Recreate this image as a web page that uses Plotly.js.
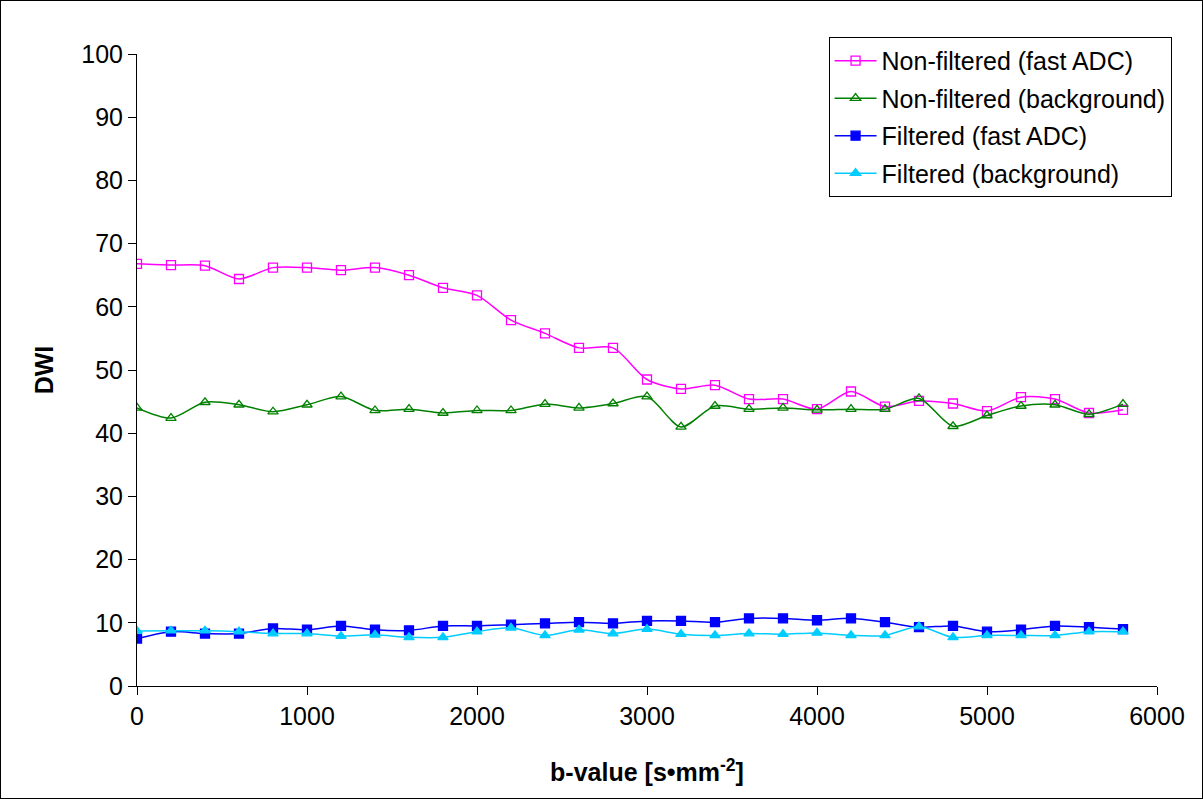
<!DOCTYPE html>
<html>
<head>
<meta charset="utf-8">
<script src="https://cdn.plot.ly/plotly-3.0.1.min.js"></script>
<style>
html,body{margin:0;padding:0;background:#fff;}
#chart{width:1203px;height:799px;box-sizing:border-box;border:1px solid #000;}
</style>
</head>
<body>
<div id="chart"></div>
<script>
const bValues = [0,200,400,600,800,1000,1200,1400,1600,1800,2000,2200,2400,2600,2800,3000,3200,3400,3600,3800,4000,4200,4400,4600,4800,5000,5200,5400,5600,5800];
const nonFilteredFastADC = [66.8,66.6,66.5,64.4,66.2,66.2,65.8,66.2,65.0,63.0,61.8,57.9,55.8,53.5,53.5,48.5,47.0,47.6,45.4,45.4,43.8,46.6,44.2,45.1,44.7,43.5,45.7,45.4,43.2,43.7];
const nonFilteredBackground = [44.0,42.4,44.9,44.5,43.4,44.5,45.8,43.6,43.8,43.2,43.6,43.6,44.6,44.0,44.7,45.8,41.0,44.3,43.8,44.0,43.7,43.8,43.8,45.5,41.1,42.8,44.3,44.5,43.0,44.6];
const filteredFastADC = [7.5,8.6,8.3,8.3,9.1,8.9,9.5,8.9,8.8,9.5,9.5,9.7,9.9,10.1,9.9,10.3,10.3,10.1,10.7,10.7,10.4,10.7,10.1,9.3,9.5,8.6,8.9,9.5,9.3,9.0];
const filteredBackground = [8.7,8.75,8.75,8.6,8.3,8.3,7.9,8.1,7.7,7.7,8.6,9.2,8.0,8.9,8.3,9.0,8.2,8.0,8.3,8.2,8.4,8.0,8.0,9.4,7.7,8.0,8.0,8.0,8.6,8.6];
const seriesNames = ["Non-filtered (fast ADC)","Non-filtered (background)","Filtered (fast ADC)","Filtered (background)"];
const xTicks = [0,1000,2000,3000,4000,5000,6000];
const yTicks = [0,10,20,30,40,50,60,70,80,90,100];

function tr(y, name, color, symbol, grp){
  return {x:bValues, y:y, name:name, legendgroup:grp, type:'scatter', mode:'lines+markers',
    line:{color:color, width:1.5, shape:'spline', smoothing:0.8},
    marker:{symbol:symbol, size:9, color:color, line:{color:color, width:1.3}}};
}
const data = [
  tr(nonFilteredFastADC, seriesNames[0], '#FF00FF', 'square-open', 'g1'),
  tr(nonFilteredBackground, seriesNames[1], '#008000', 'triangle-up-open', 'g2'),
  tr(filteredFastADC, seriesNames[2], '#0000FF', 'square', 'g3'),
  tr(filteredBackground, seriesNames[3], '#00CCFF', 'triangle-up', 'g4')
];
const font = {family:'"Liberation Sans", Arial, sans-serif', size:25, color:'#000'};
const layout = {
  width:1201, height:797,
  margin:{l:136, r:45, t:53, b:112},
  paper_bgcolor:'#fff', plot_bgcolor:'#fff',
  font:font,
  showlegend:true,
  legend:{x:0.678, y:1.027, xanchor:'left', yanchor:'top', bordercolor:'#000', borderwidth:1,
    bgcolor:'#fff', font:{family:font.family, size:25, color:'#000'}, tracegroupgap:2,
    itemwidth:42, traceorder:'grouped'},
  xaxis:{range:[0,6000], tickvals:xTicks, ticks:'outside', ticklen:8, tickcolor:'#000',
    showline:true, linecolor:'#000', linewidth:1, showgrid:false, zeroline:false,
    tickfont:font,
    title:{text:'<b>b-value [s•mm<sup>-2</sup>]</b>', font:font, standoff:34}},
  yaxis:{range:[0,100], tickvals:yTicks, ticks:'outside', ticklen:8, tickcolor:'#000',
    showline:true, linecolor:'#000', linewidth:1, showgrid:false, zeroline:false,
    tickfont:font,
    title:{text:'<b>DWI</b>', font:font, standoff:20}}
};
Plotly.newPlot('chart', data, layout, {displayModeBar:false});
</script>
</body>
</html>
